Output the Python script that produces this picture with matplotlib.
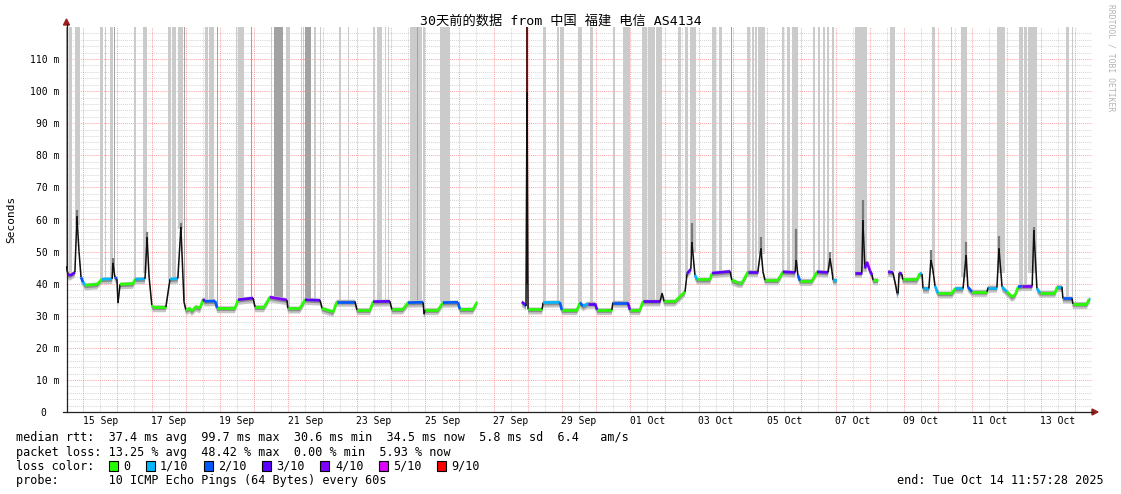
import numpy as np
import matplotlib
matplotlib.use('Agg')
import matplotlib.pyplot as plt
from matplotlib.collections import LineCollection
from matplotlib.patches import Rectangle, Polygon

# ---------------- data (time in days since start: Sep 14 11:57:28) ----------------
nan = np.nan
rtt_t = [0.00, 0.06, 0.12, 0.26, 0.32, 0.38, 0.44, 0.50, 0.56, 0.91, 1.05, 1.35, 1.37, 1.43, 1.49,
         1.52, 1.58, 1.96, 2.02, 2.31, 2.37, 2.43, 2.51, 2.54, 2.92, 3.04, 3.27, 3.36, 3.45, 3.51,
         3.63, 3.68, 3.80, 3.92, 4.01, 4.06, 4.36, 4.42, 4.94, 5.03, 5.47, 5.53, 5.79, 5.96, 6.46,
         6.49, 6.84, 6.99, 7.43, 7.49, 7.81, 7.92, 8.45, 8.51, 8.89, 8.98, 9.47, 9.53, 9.85, 10.00,
         10.44, 10.47, 10.50, 10.88, 11.02, 11.46, 11.52, 11.90, 12.02,
         12.50,
         13.33, 13.42, 13.45, 13.48, 13.51, 13.92, 13.95, 14.44, 14.50, 14.94, 15.03, 15.12, 15.26,
         15.47, 15.53, 15.96, 15.99, 16.43, 16.49, 16.78, 16.87, 17.37, 17.43, 17.49, 17.81, 18.10,
         18.16, 18.27, 18.30, 18.39, 18.45, 18.83, 18.89, 19.42, 19.47, 19.65, 19.77, 19.94, 20.23,
         20.32, 20.38, 20.44, 20.82, 20.96, 21.32, 21.35, 21.40, 21.46, 21.81, 21.96, 22.28, 22.34,
         22.40, 22.43, 22.54,
         22.80,
         23.07, 23.27, 23.30, 23.36, 23.42, 23.51, 23.57, 23.60, 23.74,
         23.90,
         24.04, 24.18, 24.27, 24.30, 24.33, 24.36, 24.44, 24.47, 24.88, 24.97, 25.03, 25.06, 25.23,
         25.29, 25.35, 25.41, 25.50, 25.91, 26.00, 26.23, 26.32, 26.37, 26.49, 26.93, 26.96, 27.22,
         27.28, 27.37, 27.51, 27.66, 27.75, 27.84, 27.95, 28.25, 28.30, 28.39, 28.48, 28.92, 28.98,
         29.12, 29.15, 29.42, 29.44, 29.85, 29.91, 29.94]
rtt_ms = [45.5, 43.0, 42.5, 43.5, 61.0, 50.0, 42.0, 40.5, 39.5, 39.8, 41.4, 41.5, 46.5, 42.0, 41.5,
          34.0, 39.8, 40.0, 41.4, 41.5, 54.5, 42.0, 33.3, 32.7, 32.7, 41.4, 41.6, 57.7, 34.3, 31.8,
          32.3, 31.5, 32.8, 32.4, 35.2, 34.5, 34.6, 32.4, 32.4, 35.0, 35.5, 32.7, 32.7, 35.8, 34.9,
          32.3, 32.3, 35.0, 34.8, 32.3, 31.2, 34.4, 34.4, 31.8, 31.8, 34.4, 34.5, 32.0, 32.0, 34.1,
          34.2, 30.5, 31.8, 31.8, 34.1, 34.2, 32.0, 32.0, 34.3,
          nan,
          34.3, 33.5, 33.0, 99.7, 32.0, 32.0, 34.1, 34.2, 31.8, 31.8, 34.1, 33.0, 33.8,
          33.8, 31.8, 31.8, 34.1, 34.1, 31.8, 31.8, 34.5, 34.5, 37.0, 34.5, 34.5, 37.5,
          43.2, 44.5, 53.0, 42.7, 41.3, 41.3, 43.3, 43.8, 41.1, 40.3, 40.3, 43.7, 43.7,
          51.0, 43.7, 41.1, 41.1, 43.7, 43.5, 47.4, 42.7, 40.9, 40.9, 43.7, 43.5, 47.9,
          43.7, 41.1, 41.0,
          nan,
          43.4, 43.4, 59.8, 44.8, 46.8, 44.0, 42.7, 41.1, 41.1,
          nan,
          43.7, 43.5, 39.0, 37.0, 37.0, 43.4, 43.0, 41.3, 41.3, 43.2, 43.0, 38.5, 38.5,
          47.4, 44.2, 39.3, 37.0, 37.0, 38.5, 38.5, 48.9, 39.0, 37.5, 37.5, 38.8, 38.8,
          51.0, 39.0, 37.5, 35.9, 36.5, 39.0, 39.3, 39.3, 56.7, 38.5, 37.2, 37.2, 39.0,
          39.0, 35.4, 35.4, 33.7, 33.7, 35.1, 35.1]
rtt_loss = [3, 4, 3, 3, 4, 3, 2, 1, 0, 0, 1, 1, 3, 2, 1,
            0, 0, 0, 1, 1, 3, 2, 0, 0, 0, 1, 2, 3, 1, 0,
            0, 0, 0, 0, 3, 2, 2, 0, 0, 3, 4, 0, 0, 4, 4,
            0, 0, 3, 3, 0, 0, 2, 2, 0, 0, 3, 2, 0, 0, 2,
            3, 0, 0, 0, 2, 2, 0, 0, 4,
            0,
            3, 2, 2, 1, 0, 0, 1, 2, 0, 0, 2, 1, 3,
            3, 0, 0, 2, 3, 0, 0, 3, 3, 2, 0, 0, 2,
            3, 3, 2, 1, 0, 0, 3, 3, 0, 0, 0, 3, 3,
            2, 3, 0, 0, 3, 3, 2, 2, 0, 0, 3, 3, 1,
            3, 1, 1,
            0,
            3, 3, 2, 3, 4, 3, 1, 0, 0,
            0,
            3, 3, 2, 2, 3, 3, 3, 0, 0, 1, 1, 1, 1,
            3, 2, 1, 0, 0, 1, 1, 3, 2, 0, 0, 1, 1,
            3, 1, 0, 0, 0, 2, 4, 3, 2, 1, 0, 0, 1,
            1, 2, 2, 0, 0, 1, 1]

# smoke reaching above the chart top (loss / high pings), start-end in days, 1 light 2 dark 3 spike
smoke_start = [0.000, 0.102, 0.263, 0.424, 0.994, 1.126, 1.287, 1.404, 1.974, 2.266, 2.982, 3.099,
               3.289, 3.436, 4.050, 4.181, 4.401, 4.971, 5.029, 5.395, 5.892, 5.980, 6.082, 6.447,
               6.857, 6.930, 6.974, 7.266, 7.427, 7.982, 8.246, 8.348, 8.977, 9.094, 9.313, 9.415,
               10.058, 10.263, 10.307, 10.439, 10.936, 13.450, 13.947, 14.357, 14.444, 14.971,
               15.322, 15.994, 16.287, 16.842, 17.003, 17.237, 17.895, 18.099, 18.246, 18.889,
               19.094, 19.444, 19.912, 20.073, 20.146, 20.234, 20.936, 21.082, 21.228, 21.842,
               21.988, 22.135, 22.251, 22.398, 23.070, 24.094, 25.322, 25.877, 26.170, 27.222,
               27.865, 28.012, 28.129, 29.240, 29.415]
smoke_end = [0.044, 0.161, 0.409, 0.453, 1.082, 1.155, 1.374, 1.433, 2.061, 2.368, 3.070, 3.202,
             3.421, 3.465, 4.152, 4.327, 4.459, 5.000, 5.205, 5.439, 5.921, 6.038, 6.345, 6.550,
             6.901, 6.959, 7.164, 7.310, 7.456, 8.041, 8.275, 8.377, 9.035, 9.240, 9.371, 9.444,
             10.263, 10.307, 10.409, 10.497, 11.228, 13.509, 14.035, 14.401, 14.547, 15.088,
             15.409, 16.053, 16.491, 16.988, 17.222, 17.427, 17.982, 18.187, 18.421, 19.006,
             19.181, 19.474, 20.000, 20.117, 20.205, 20.439, 20.980, 21.170, 21.404, 21.901,
             22.047, 22.193, 22.310, 22.456, 23.421, 24.240, 25.409, 25.906, 26.345, 27.456,
             27.982, 28.099, 28.392, 29.327, 29.444]
smoke_level = [2, 1, 1, 2, 1, 1, 1, 2, 1, 1, 1, 1,
               1, 2, 1, 1, 2, 1, 1, 2, 2, 1, 2, 1,
               1, 1, 2, 1, 1, 1, 1, 1, 1, 1, 1, 1,
               1, 2, 1, 1, 1, 3, 1, 1, 1, 1,
               1, 1, 1, 1, 1, 1, 1, 1, 1, 1,
               1, 2, 1, 1, 1, 1, 1, 1, 1, 1,
               1, 1, 1, 1, 1, 1, 1, 1, 1, 1,
               1, 1, 1, 1, 1]

# extra smoke above spikes
spike_t = [0.32, 1.37, 2.37, 3.36, 18.30, 20.32, 21.35, 22.34, 23.30, 25.29, 26.32, 27.28, 28.30]
spike_top = [63.0, 48.0, 56.0, 59.0, 59.0, 54.6, 57.0, 50.0, 66.0, 50.5, 53.0, 55.0, 57.7]

loss_labels = ['0', '1/10', '2/10', '3/10', '4/10', '5/10', '9/10']
loss_colors = ['#26ff00', '#00b8ff', '#0059ff', '#5e00ff', '#7e00ff', '#dd00ff', '#ff0000']

ytick_vals = [0, 10, 20, 30, 40, 50, 60, 70, 80, 90, 100, 110]
ytick_labels = ['0  ', '10 m', '20 m', '30 m', '40 m', '50 m', '60 m', '70 m', '80 m', '90 m',
                '100 m', '110 m']
xtick_labels = ['15 Sep', '17 Sep', '19 Sep', '21 Sep', '23 Sep', '25 Sep', '27 Sep', '29 Sep',
                '01 Oct', '03 Oct', '05 Oct', '07 Oct', '09 Oct', '11 Oct', '13 Oct']
first_midnight = 12.043 / 24.0   # Sep 15 00:00 in days since start

title = '30天前的数据 from 中国 福建 电信 AS4134'
stats_rtt = 'median rtt:  37.4 ms avg  99.7 ms max  30.6 ms min  34.5 ms now  5.8 ms sd  6.4   am/s'
stats_loss = 'packet loss: 13.25 % avg  48.42 % max  0.00 % min  5.93 % now'
probe_txt = 'probe:       10 ICMP Echo Pings (64 Bytes) every 60s'
end_txt = 'end: Tue Oct 14 11:57:28 2025'

# ---------------- drawing ----------------
MONO = ['DejaVu Sans Mono', 'Noto Sans CJK SC']
plt.rcParams['font.family'] = MONO

W, H = 1121, 494
fig = plt.figure(figsize=(W / 100, H / 100), dpi=100)
fig.patch.set_facecolor('white')
L, R, B, T = 66, 1092, 412, 27
ax = fig.add_axes([L / W, 1 - B / H, (R - L) / W, (B - T) / H])
ax.set_xlim(0, 30)
ax.set_ylim(0, 120)
ax.set_facecolor('white')
for s in ax.spines.values():
    s.set_visible(False)

dot = (0, (1, 1))
# grid
for y in np.arange(2, 120, 2):
    if y % 10 == 0:
        ax.axhline(y, color='#ff5f5f', alpha=0.55, lw=0.75, ls=dot, zorder=0)
    else:
        ax.axhline(y, color='#8f8f8f', alpha=0.35, lw=0.75, ls=dot, zorder=0)
for k in range(30):
    xm = first_midnight + k
    ax.axvline(xm, color='#ff5f5f', alpha=0.55, lw=0.75, ls=dot, zorder=0)
    ax.axvline(xm + 0.5, color='#8f8f8f', alpha=0.35, lw=0.75, ls=dot, zorder=0)

t = np.array(rtt_t)
v = np.array(rtt_ms)
lo = np.array(rtt_loss)
ok = ~np.isnan(v)

# smoke bars up to top
shade = {1: '#cbcbcb', 2: '#a2a2a2', 3: '#5a1a1a'}
for s0, s1, lv in zip(smoke_start, smoke_end, smoke_level):
    mid = 0.5 * (s0 + s1)
    base = np.interp(mid, t[ok], v[ok]) + 0.3
    if lv == 3:
        base = 40
    ax.add_patch(Rectangle((s0, base), s1 - s0, 120 - base, facecolor=shade[lv],
                           edgecolor='none', zorder=1 if lv < 3 else 2.5))

# spike smoke
for st, sv in zip(spike_t, spike_top):
    ax.vlines(st, np.interp(st, t[ok], v[ok]) - 2, sv, color='#7a7a7a', lw=1.6, zorder=2)

# smoke band around median
ax.fill_between(t, v - 1.6, v + 0.6, color='#c4c4c4', lw=0, zorder=2)
ax.fill_between(t, v - 0.9, v + 0.3, color='#8c8c8c', lw=0, zorder=2)

# median line, coloured by loss
segs, cols, lws = [], [], []
for i in range(len(t) - 1):
    if np.isnan(v[i]) or np.isnan(v[i + 1]):
        continue
    slope = abs(v[i + 1] - v[i]) / (t[i + 1] - t[i])
    segs.append([(t[i], v[i]), (t[i + 1], v[i + 1])])
    if slope > 40:
        cols.append('#101010')
        lws.append(1.1)
    else:
        cols.append(loss_colors[lo[i]])
        lws.append(1.9)
ax.add_collection(LineCollection(segs, colors=cols, linewidths=lws, zorder=3,
                                 capstyle='butt'))

# ticks
ax.set_yticks(ytick_vals)
ax.set_yticklabels(ytick_labels, fontsize=7, family=MONO)
ax.set_xticks([first_midnight + 0.5 + 2 * k for k in range(len(xtick_labels))])
ax.set_xticklabels(xtick_labels, fontsize=7, family=MONO)
ax.tick_params(axis='both', length=0, colors='black')
ax.tick_params(axis='y', pad=5)
ax.tick_params(axis='x', pad=3)

# axes lines with arrows (figure pixel coords)
def fx(px):
    return px / W

def fy(py):
    return 1 - py / H

fig.add_artist(plt.Line2D([fx(66.5), fx(66.5)], [fy(412), fy(24)], color='#202020', lw=0.9))
fig.add_artist(plt.Line2D([fx(63), fx(1093)], [fy(412), fy(412)], color='#202020', lw=0.9))
fig.add_artist(Polygon([[fx(66.5), fy(19)], [fx(63.5), fy(25)], [fx(69.5), fy(25)]],
                       closed=True, color='#9b2020', transform=fig.transFigure))
fig.add_artist(Polygon([[fx(1098), fy(412)], [fx(1092), fy(409)], [fx(1092), fy(415)]],
                       closed=True, color='#9b2020', transform=fig.transFigure))

# texts
fig.text(0.5, fy(21), title, ha='center', va='center', fontsize=9.5, family=MONO)
fig.text(fx(11), fy(219), 'Seconds', rotation=90, ha='center', va='center', fontsize=8,
         family=MONO)
fig.text(fx(1111), fy(4), 'RRDTOOL / TOBI OETIKER', rotation=270, ha='center', va='top',
         fontsize=5.8, color='#b4b4b4', family=MONO)
fs = 8.5
fig.text(fx(16), fy(437.5), stats_rtt, ha='left', va='center', fontsize=fs, family=MONO)
fig.text(fx(16), fy(452), stats_loss, ha='left', va='center', fontsize=fs, family=MONO)
fig.text(fx(16), fy(466), 'loss color:', ha='left', va='center', fontsize=fs, family=MONO)
fig.text(fx(16), fy(480.5), probe_txt, ha='left', va='center', fontsize=fs, family=MONO)
fig.text(fx(1104), fy(480.5), end_txt, ha='right', va='center', fontsize=fs, family=MONO)

cw = 7.1
xpos = 108.5
for lab, col in zip(loss_labels, loss_colors):
    fig.add_artist(Rectangle((fx(xpos), fy(471)), 9 / W, 10 / H, facecolor=col,
                             edgecolor='black', lw=0.8, transform=fig.transFigure))
    fig.text(fx(xpos + 14.5), fy(466), lab, ha='left', va='center', fontsize=fs, family=MONO)
    xpos += (len(lab) + 4) * cw + 1.5

fig.savefig('out.png', dpi=100, facecolor='white')
